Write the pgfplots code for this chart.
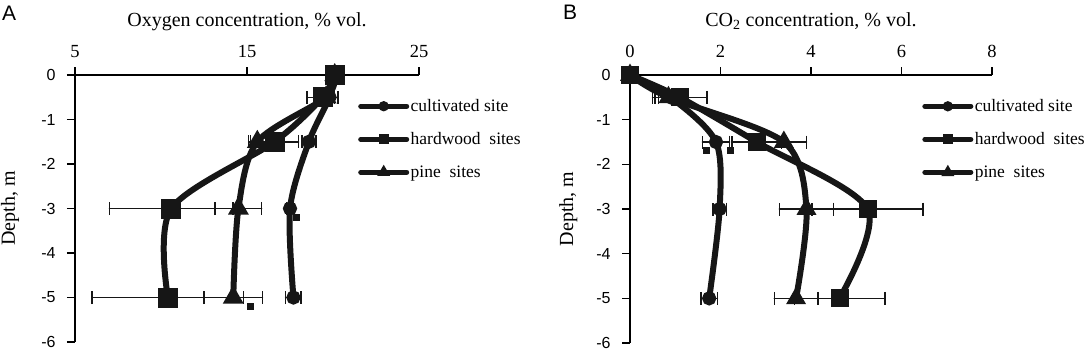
\documentclass[border=0pt]{standalone}
\usepackage{fontspec}
\setmainfont{Liberation Serif}
\newfontfamily\arialf{Liberation Sans}
\usepackage{pgfplots}
\pgfplotsset{compat=1.18}
\definecolor{ink}{HTML}{161616}
\pgfplotsset{
  panel/.style={
    anchor=south west, scale only axis,
    ymin=-6, ymax=0,
    axis x line=top, axis y line=left,
    axis line style={-, line width=1.3bp, black},
    tick align=outside, major tick length=8bp,
    tick style={line width=1.3bp, black},
    ytick={-6,-5,-4,-3,-2,-1,0},
    yticklabels={-6,-5,-4,-3,-2,-1,0},
    yticklabel style={font=\arialf\fontsize{16bp}{18bp}\selectfont, anchor=east, xshift=-8bp},
    xticklabel style={font=\fontsize{18.5bp}{21bp}\selectfont, anchor=base, yshift=10bp},
    title style={at={(0.5,1)}, anchor=base, yshift=43bp, font=\fontsize{20bp}{24bp}\selectfont},
    ylabel={Depth, m},
    ylabel style={at={(axis description cs:0,0.5)}, anchor=base, font=\fontsize{20bp}{24bp}\selectfont},
    clip=false,
    legend cell align=left,
    legend style={draw=none, fill=none, inner sep=0pt, row sep=16.5bp,
      font=\fontsize{17.5bp}{20bp}\selectfont,
      nodes={inner sep=1.5bp}},
    legend image code/.code={
      \draw[mark repeat=2, mark phase=2, #1, line width=5bp, line cap=round, mark size=2.5bp]
        plot coordinates {(0bp,0bp) (23bp,0bp) (46bp,0bp)};
    },
  },
  ser/.style={ink, line width=6bp, smooth, tension=0.5, line cap=round,
    error bars/x dir=both, error bars/x explicit,
    error bars/error bar style={line width=1.5bp, ink, solid},
    error bars/error mark options={rotate=90, mark size=6.5bp, line width=1.5bp, ink}},
}
\begin{document}
\begin{tikzpicture}[x=1bp,y=1bp]
\path[use as bounding box] (0,0) rectangle (1084,353);
\node[anchor=base west, inner sep=0pt, font=\arialf\fontsize{21bp}{24bp}\selectfont] at (2,333) {A};
\node[anchor=base west, inner sep=0pt, font=\arialf\fontsize{21bp}{24bp}\selectfont] at (563,334) {B};

\begin{axis}[panel,
  at={(75bp,11bp)}, width=344bp, height=267bp,
  xmin=5, xmax=25, xtick={5,15,25}, xticklabels={5,15,25},
  title={Oxygen concentration, \% vol.},
  ylabel style={yshift=60bp},
  legend style={at={(0.8227,0.915)}, anchor=north west},
]
\addplot[ser, mark=*, mark size=4bp, mark options={solid}] coordinates {
 (20.1,0) +- (0,0)
 (19.8,-0.5) +- (0.3,0)
 (18.6,-1.5) +- (0.4,0)
 (17.5,-3) +- (0.2,0)
 (17.7,-5) +- (0.45,0)
};
\addlegendentry{cultivated site}
\addplot[ser, mark=square*, mark size=7bp, mark options={solid}] coordinates {
 (20.1,0) +- (0.2,0)
 (19.4,-0.5) +- (0.9,0)
 (16.6,-1.5) +- (1.4,0)
 (10.6,-3) +- (3.6,0)
 (10.4,-5) +- (4.4,0)
};
\addlegendentry{hardwood\ \ sites}
\addplot[ser, mark=triangle*, mark size=6bp, mark options={solid}] coordinates {
 (20.1,0) +- (0,0)
 (19.6,-0.5) +- (0.3,0)
 (15.6,-1.5) +- (0.5,0)
 (14.5,-3) +- (1.35,0)
 (14.2,-5) +- (1.7,0)
};
\addlegendentry{pine\ \ sites}
\addplot[only marks, mark=square*, mark size=3bp, ink, forget plot] coordinates {(17.85,-3.2) (15.2,-5.2)};
\end{axis}

\begin{axis}[panel,
  at={(630bp,10bp)}, width=362bp, height=268bp,
  xmin=0, xmax=8, xtick={0,2,4,6,8}, xticklabels={0,2,4,6,8},
  title={CO\textsubscript{2} concentration, \% vol.},
  ylabel style={yshift=57bp},
  legend style={at={(0.807,0.915)}, anchor=north west},
]
\addplot[ser, mark=*, mark size=4bp, mark options={solid}] coordinates {
 (0,0) +- (0,0)
 (0.9,-0.5) +- (0.27,0)
 (1.9,-1.5) +- (0.3,0)
 (1.98,-3) +- (0.15,0)
 (1.75,-5) +- (0.18,0)
};
\addlegendentry{cultivated site}
\addplot[ser, mark=square*, mark size=6bp, mark options={solid}] coordinates {
 (0,0) +- (0,0)
 (1.1,-0.5) +- (0.6,0)
 (2.8,-1.5) +- (0.55,0)
 (5.25,-3) +- (1.23,0)
 (4.63,-5) +- (1.0,0)
};
\addlegendentry{hardwood\ \ sites}
\addplot[ser, mark=triangle*, mark size=5.5bp, mark options={solid}] coordinates {
 (0,0) +- (0,0)
 (0.85,-0.5) +- (0.3,0)
 (3.4,-1.5) +- (0.5,0)
 (3.9,-3) +- (0.6,0)
 (3.67,-5) +- (0.48,0)
};
\addlegendentry{pine\ \ sites}
\addplot[only marks, mark=square*, mark size=3bp, ink, forget plot] coordinates {(1.69,-1.68) (2.21,-1.68)};
\end{axis}
\end{tikzpicture}
\end{document}
